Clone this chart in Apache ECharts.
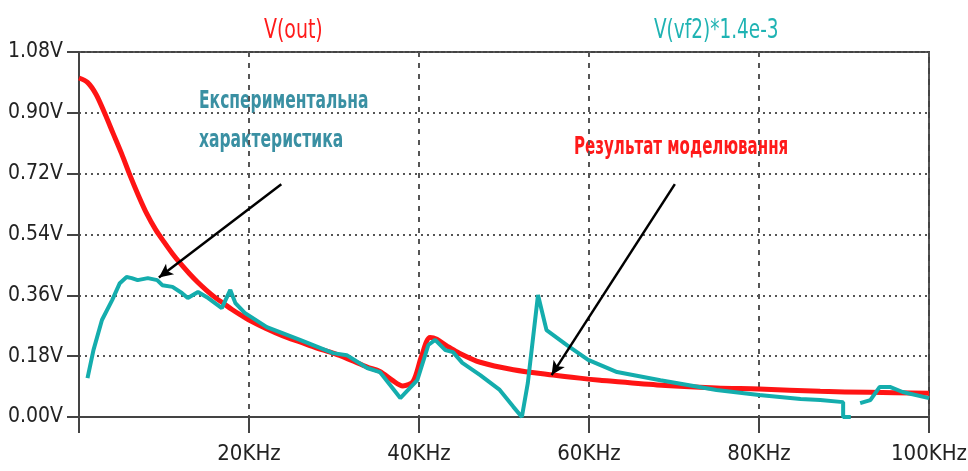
<!DOCTYPE html>
<html>
<head>
<meta charset="utf-8">
<script src="https://cdn.jsdelivr.net/npm/echarts@6/dist/echarts.min.js"></script>
<style>
  html, body { margin: 0; padding: 0; background: #fff; }
  #chart { width: 968px; height: 471px; }
</style>
</head>
<body>
<div id="chart"></div>
<script>
// frequency in kHz, voltage in V
var outFreq = [0, 1, 2, 3, 4, 5, 6, 7, 8, 9, 10, 11, 12, 13, 14, 15, 16, 17, 18, 19, 20, 22, 24, 26, 28, 30, 32, 33.9, 35.4, 36.8, 38.1, 39.3, 40.3, 41.3, 42.1, 43.3, 44.5, 47.2, 51.1, 55.8, 58.9, 61.3, 68, 75, 80, 87.2, 93, 100];
var outVolt = [1.003, 0.99, 0.955, 0.90, 0.84, 0.78, 0.715, 0.655, 0.60, 0.555, 0.518, 0.483, 0.452, 0.424, 0.398, 0.375, 0.354, 0.336, 0.318, 0.302, 0.287, 0.262, 0.24, 0.222, 0.204, 0.188, 0.168, 0.148, 0.135, 0.11, 0.092, 0.105, 0.18, 0.235, 0.23, 0.21, 0.192, 0.162, 0.14, 0.124, 0.115, 0.109, 0.095, 0.086, 0.083, 0.076, 0.073, 0.070];

var vfFreq = [1.0, 1.7, 2.7, 3.9, 4.8, 5.6, 6.2, 6.9, 8.1, 9.2, 9.8, 11, 12.1, 12.8, 14, 15.2, 16.8, 17.8, 18.4, 19.5, 22.1, 26, 29.9, 31.5, 33.9, 35.4, 37.8, 39.8, 41.1, 41.9, 43.1, 44, 45.1, 47.2, 49.5, 51.1, 52.1, 52.8, 54, 55, 57.4, 59.9, 63.3, 68.4, 75, 80, 84.9, 87.2, 89.9, 89.9, 90.8, 91.3, 91.9, 93.1, 94.2, 95.4, 96.9, 100];
var vfVolt = [0.115, 0.198, 0.287, 0.346, 0.396, 0.414, 0.411, 0.405, 0.411, 0.405, 0.39, 0.385, 0.367, 0.352, 0.37, 0.352, 0.322, 0.376, 0.337, 0.308, 0.266, 0.228, 0.189, 0.183, 0.145, 0.133, 0.056, 0.109, 0.213, 0.228, 0.198, 0.192, 0.160, 0.124, 0.080, 0.030, 0.0, 0.10, 0.361, 0.257, 0.213, 0.169, 0.133, 0.109, 0.080, 0.065, 0.053, 0.050, 0.044, 0.0, 0.0, null, 0.041, 0.050, 0.089, 0.089, 0.074, 0.056];

// annotation arrows [from, to] in kHz / V
var arrowExp = [[23.8, 0.689], [9.4, 0.413]];
var arrowSim = [[70.1, 0.689], [55.6, 0.124]];

function pairs(xs, ys) {
  var out = [];
  for (var i = 0; i < xs.length; i++) out.push([xs[i], ys[i]]);
  return out;
}

var cond = "'DejaVu Sans Condensed', 'DejaVu Sans', sans-serif";
var red = '#ff1414';
var teal = '#14adad';

// condensed looking text (reference uses a narrow face)
function label(text, x, y, color, size, weight, sx) {
  return {
    type: 'text', x: x, y: y, scaleX: sx, silent: true,
    style: {
      text: text, fill: color, font: weight + ' ' + size + 'px ' + cond,
      align: 'left', verticalAlign: 'middle'
    }
  };
}

var myChart = echarts.init(document.getElementById('chart'));

var option = {
  backgroundColor: '#fff',
  animation: false,
  grid: {
    left: 79, right: 39, top: 52, bottom: 54,
    outerBoundsMode: 'none', containLabel: false,
    show: true, borderColor: '#444', borderWidth: 2, backgroundColor: '#fff'
  },
  xAxis: {
    type: 'value', min: 0, max: 100, interval: 20,
    axisLine: { show: true, lineStyle: { color: '#444', width: 2 } },
    axisTick: { show: true, length: 16, lineStyle: { color: '#444', width: 2 } },
    axisLabel: {
      margin: 26, color: '#222', fontFamily: cond, fontSize: 22,
      formatter: function (v) { return v === 0 ? '' : v + 'KHz'; }
    },
    splitLine: { show: true, lineStyle: { color: '#555', width: 2, type: [5, 6] } }
  },
  yAxis: {
    type: 'value', min: 0, max: 1.08, interval: 0.18,
    axisLine: { show: true, lineStyle: { color: '#444', width: 2 } },
    axisTick: { show: true, length: 12, lineStyle: { color: '#444', width: 2 } },
    axisLabel: {
      margin: 16, color: '#222', fontFamily: cond, fontSize: 21,
      formatter: function (v) { return v.toFixed(2) + 'V'; }
    },
    splitLine: { show: true, lineStyle: { color: '#555', width: 2, type: [2, 4] } }
  },
  graphic: [
    label('V(out)', 264, 31, '#ff1a1a', 27, 'normal', 0.78),
    label('V(vf2)*1.4e-3', 654, 31, '#1fb3b3', 27, 'normal', 0.76),
    label('Експериментальна', 199, 101, '#3a90a3', 25, 'bold', 0.69),
    label('характеристика', 199, 140, '#3a90a3', 25, 'bold', 0.69),
    label('Результат моделювання', 574, 147, '#ff1a1a', 25, 'bold', 0.67)
  ],
  series: [
    {
      name: 'V(out)', type: 'line', data: pairs(outFreq, outVolt),
      showSymbol: false, smooth: 0.3, z: 2,
      lineStyle: { color: red, width: 5 },
      itemStyle: { color: red },
      markLine: {
        silent: true, symbol: ['none', 'arrow'], symbolSize: [10, 14],
        label: { show: false },
        lineStyle: { color: '#000', width: 2.5, type: 'solid' },
        data: [
          [{ coord: arrowExp[0] }, { coord: arrowExp[1] }],
          [{ coord: arrowSim[0] }, { coord: arrowSim[1] }]
        ]
      }
    },
    {
      name: 'V(vf2)*1.4e-3', type: 'line', data: pairs(vfFreq, vfVolt),
      showSymbol: false, connectNulls: false, z: 3,
      lineStyle: { color: teal, width: 4 },
      itemStyle: { color: teal }
    }
  ]
};

myChart.setOption(option);
</script>
</body>
</html>
